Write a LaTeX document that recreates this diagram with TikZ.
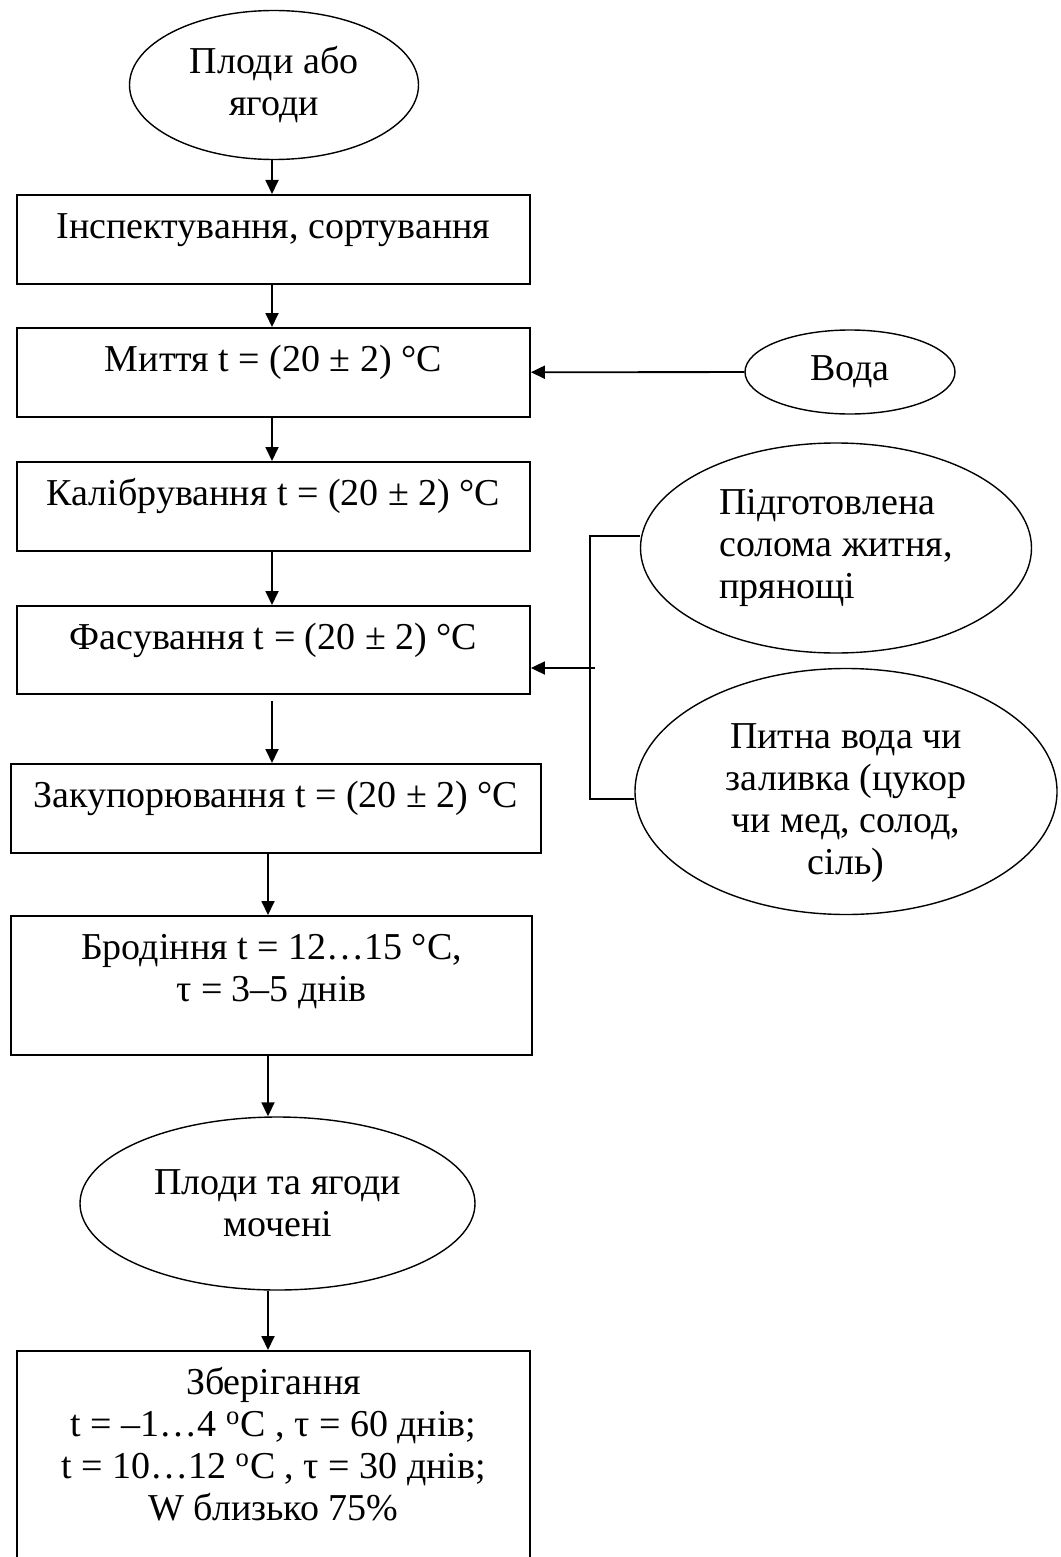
\documentclass[tikz,border=0pt]{standalone}
\usepackage{fontspec}
\setmainfont{Liberation Serif}
\usetikzlibrary{arrows.meta,shapes.geometric}

\begin{document}
\begin{tikzpicture}[x=0.5pt, y=-0.5pt, >={Triangle[length=7pt,width=6.5pt]}, line width=0.9pt,
  stage/.style={draw, rectangle, anchor=north, inner sep=0pt, align=center, text height=22pt, text depth=22.5pt, font=\fontsize{19pt}{21pt}\selectfont},
  oval/.style={draw, ellipse, inner sep=0pt, line width=0.7pt, align=center, font=\fontsize{19pt}{21pt}\selectfont}]
\useasboundingbox (0,0) rectangle (1060,1557);
\coordinate (axis) at (272,0);
\coordinate (axislow) at (268,0);
% main line
\node[oval, minimum width=144.5pt, minimum height=74.5pt] (fruit) at (274,85) {Плоди або\\ягоди};
\node[stage, minimum width=256.5pt] (sorting) at (273.5,194) {Інспектування, сортування};
\node[stage, minimum width=256.5pt] (washing) at (273.5,327) {Миття t = (20 ± 2) °C};
\node[stage, minimum width=256.5pt] (calibr) at (273.5,461) {Калібрування t = (20 ± 2) °C};
\node[stage, minimum width=256.5pt, text depth=22pt] (packing) at (273.5,605) {Фасування t = (20 ± 2) °C};
\node[stage, minimum width=265pt] (sealing) at (276,763) {Закупорювання t = (20 ± 2) °C};
\node[stage, minimum width=260.5pt, text height=43pt, text depth=26.5pt] (ferment) at (271.5,915) {Бродіння t = 12…15 °C,\\τ = 3–5 днів};
\node[oval, minimum width=197.5pt, minimum height=86.5pt] (soaked) at (277.5,1203.5) {Плоди та ягоди\\мочені};
\node[stage, minimum width=256.5pt, text height=85pt, text depth=40pt] (storage) at (273.5,1350) {Зберігання\\t = –1…4 \textsuperscript{o}C , τ = 60 днів;\\t = 10…12 \textsuperscript{o}C , τ = 30 днів;\\W близько 75\%};
% side inputs
\node[oval, minimum width=105pt, minimum height=42pt] (water) at (850,372) {Вода};
\node[oval, minimum width=195.5pt, minimum height=105pt, align=left] (straw) at (836,548) {Підготовлена\\солома житня,\\прянощі};
\node[oval, minimum width=211pt, minimum height=123pt, text height=82.5pt, text depth=0pt] (brine) at (846,791.5) {Питна вода чи\\заливка (цукор\\чи мед, солод,\\сіль)};
\coordinate (jtop) at (590,536);
\coordinate (jbot) at (590,799);
\coordinate (jmid) at (595,668);
% arrows
\draw[->] (fruit.south -| axis) -- (sorting.north -| axis);
\draw[->] (sorting.south -| axis) -- (washing.north -| axis);
\draw[->] (washing.south -| axis) -- (calibr.north -| axis);
\draw[->] (calibr.south -| axis) -- (packing.north -| axis);
\draw[->, shorten <=3pt] (packing.south -| axis) -- (sealing.north -| axis);
\draw[->] (sealing.south -| axislow) -- (ferment.north -| axislow);
\draw[->] (ferment.south -| axislow) -- (soaked.north -| axislow);
\draw[->] (soaked.south -| axislow) -- (storage.north -| axislow);
\draw[->] (water) -- (washing);
\draw (straw.west |- jtop) -- (jtop) -- (jbot) -- (brine.west |- jbot);
\draw[->] (jmid) -- (packing.east |- jmid);
\end{tikzpicture}
\end{document}
